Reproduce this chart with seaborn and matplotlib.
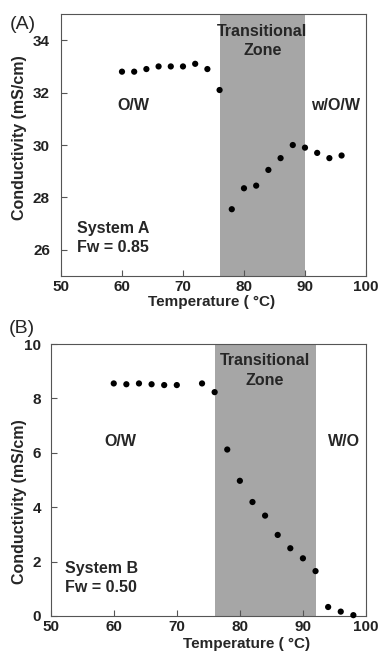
import matplotlib
matplotlib.use("Agg")
import matplotlib.pyplot as plt
import seaborn as sns
import pandas as pd

# System A data (Fw = 0.85)
temp_a = [60, 62, 64, 66, 68, 70, 72, 74, 76, 78, 80, 82, 84, 86, 88, 90, 92, 94, 96]
cond_a = [32.8, 32.8, 32.9, 33.0, 33.0, 33.0, 33.1, 32.9, 32.1, 27.55, 28.35, 28.45,
          29.05, 29.5, 30.0, 29.9, 29.7, 29.5, 29.6]

# System B data (Fw = 0.50)
temp_b = [60, 62, 64, 66, 68, 70, 74, 76, 78, 80, 82, 84, 86, 88, 90, 92, 94, 96, 98]
cond_b = [8.55, 8.52, 8.55, 8.52, 8.49, 8.49, 8.55, 8.23, 6.12, 4.97, 4.19, 3.69,
          2.98, 2.49, 2.12, 1.65, 0.33, 0.16, 0.03]

zone_a = (76, 90)
zone_b = (76, 92)
xticks = [50, 60, 70, 80, 90, 100]

sns.set_style("ticks")
plt.rcParams['font.family'] = ['Liberation Sans', 'DejaVu Sans']

df_a = pd.DataFrame({"Temperature": temp_a, "Conductivity": cond_a})
df_b = pd.DataFrame({"Temperature": temp_b, "Conductivity": cond_b})

fig = plt.figure(figsize=(3.8, 6.53), dpi=100)
ax1 = fig.add_axes([0.1605, 0.5773, 0.8026, 0.4012])
ax2 = fig.add_axes([0.1334, 0.0567, 0.8297, 0.4165])

bold = dict(fontweight="bold", fontsize=11.5)


def style_axis(ax, ypad):
    ax.set_xlim(50, 100)
    ax.set_xticks(xticks)
    ax.tick_params(direction="in", length=4, width=0.8, labelsize=11, color="#555555")
    ax.tick_params(axis="y", pad=ypad)
    ax.tick_params(axis="x", pad=3)
    for lab in ax.get_xticklabels() + ax.get_yticklabels():
        lab.set_fontweight("bold")
        lab.set_color("#222222")
    for sp in ax.spines.values():
        sp.set_color("#555555")
        sp.set_linewidth(0.8)


# panel A
ax1.axvspan(*zone_a, color="#a6a6a6", lw=0, zorder=0)
sns.scatterplot(data=df_a, x="Temperature", y="Conductivity", ax=ax1,
                color="black", s=20, edgecolor="none", zorder=3)
ax1.set_ylim(25, 35)
ax1.set_yticks([26, 28, 30, 32, 34])
style_axis(ax1, 8)
ax1.set_xlabel("Temperature ( °C)", fontweight="bold", fontsize=11)
ax1.set_ylabel("Conductivity (mS/cm)", fontweight="bold", fontsize=11.5)
ax1.xaxis.set_label_coords(0.495, -0.072)
ax1.yaxis.set_label_coords(-0.11, 0.53)
ax1.text(83, 34.35, "Transitional", ha="center", va="center", **bold)
ax1.text(83, 33.62, "Zone", ha="center", va="center", **bold)
ax1.text(61.8, 31.5, "O/W", ha="center", va="center", **bold)
ax1.text(95, 31.5, "w/O/W", ha="center", va="center", **bold)
ax1.text(52.6, 26.8, "System A", ha="left", va="center", **bold)
ax1.text(52.6, 26.1, "Fw = 0.85", ha="left", va="center", **bold)

# panel B
ax2.axvspan(*zone_b, color="#a6a6a6", lw=0, zorder=0)
sns.scatterplot(data=df_b, x="Temperature", y="Conductivity", ax=ax2,
                color="black", s=20, edgecolor="none", zorder=3, clip_on=False)
ax2.set_ylim(0, 10)
ax2.set_yticks([0, 2, 4, 6, 8, 10])
style_axis(ax2, 7)
ax2.set_xlabel("Temperature ( °C)", fontweight="bold", fontsize=11)
ax2.set_ylabel("Conductivity (mS/cm)", fontweight="bold", fontsize=11.5)
ax2.xaxis.set_label_coords(0.62, -0.077)
ax2.yaxis.set_label_coords(-0.074, 0.42)
ax2.text(84, 9.39, "Transitional", ha="center", va="center", **bold)
ax2.text(84, 8.64, "Zone", ha="center", va="center", **bold)
ax2.text(61, 6.4, "O/W", ha="center", va="center", **bold)
ax2.text(96.5, 6.4, "W/O", ha="center", va="center", **bold)
ax2.text(52.3, 1.76, "System B", ha="left", va="center", **bold)
ax2.text(52.3, 1.03, "Fw = 0.50", ha="left", va="center", **bold)

fig.text(0.026, 0.962, "(A)", fontsize=14, ha="left", va="center")
fig.text(0.022, 0.497, "(B)", fontsize=14, ha="left", va="center")

fig.savefig("out.png", dpi=100)
